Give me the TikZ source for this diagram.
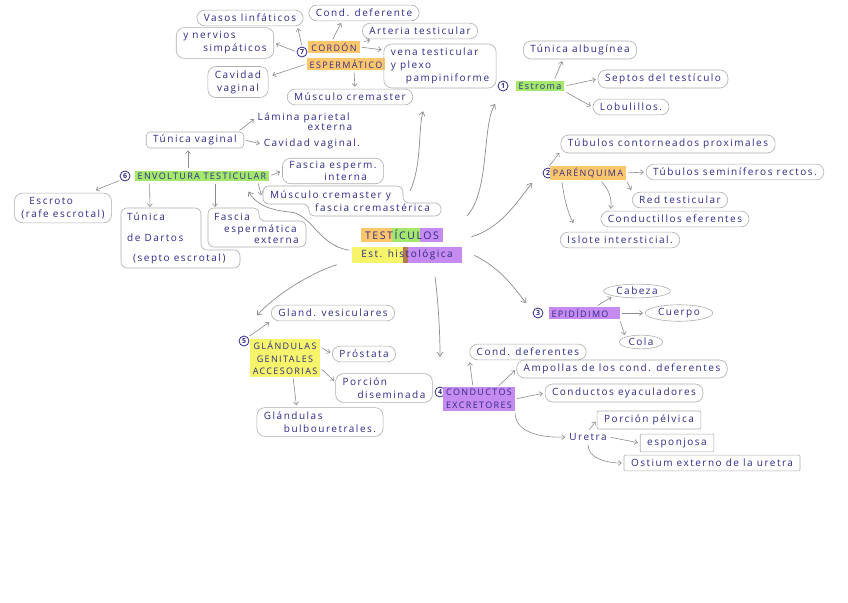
\documentclass[tikz,border=0pt]{standalone}
\usepackage{fontspec}
\setmainfont{Open Sans}[LetterSpace=15]
\usetikzlibrary{arrows.meta,shapes.geometric,calc,backgrounds}
\definecolor{ink}{HTML}{2E2A88}
\definecolor{ln}{HTML}{8C8C8C}
\definecolor{hor}{HTML}{FFC76B}
\definecolor{hgr}{HTML}{A3E86A}
\definecolor{hye}{HTML}{F5F46A}
\definecolor{hpu}{HTML}{C68BF0}
\definecolor{hbr}{HTML}{B07A55}
\begin{document}
\begin{tikzpicture}[x=1pt,y=-1pt,
  every node/.style={text=ink,font=\fontsize{10}{13}\selectfont},
  bx/.style={draw=ln!70,line width=.6pt,rounded corners=8pt,inner xsep=7pt,inner ysep=4pt},
  sq/.style={draw=ln!70,line width=.6pt,rounded corners=1pt,inner xsep=7pt,inner ysep=4pt},
  el/.style={ellipse,draw=ln!70,line width=.6pt,inner xsep=3pt,inner ysep=1pt},
  pl/.style={inner sep=2pt},
  tx/.style={inner sep=0pt,align=left},
  outl/.style={draw=ln!70,line width=.6pt,rounded corners=6pt},
  hd/.style={inner xsep=3pt,inner ysep=2pt,font=\fontsize{9}{12.5}\selectfont},
  num/.style={circle,draw=ink,line width=.8pt,inner sep=0pt,minimum size=10pt,font=\fontsize{7}{7}\selectfont\bfseries},
  arr/.style={-{Straight Barb[length=3pt,width=5pt]},draw=ln,line width=.6pt,shorten <=2pt,shorten >=2pt},
  crv/.style={-{Straight Barb[length=4pt,width=6pt]},draw=ln,line width=.7pt}]
\begin{pgfonlayer}{background}
\fill[white] (0,0) rectangle (848,602);
\end{pgfonlayer}
\useasboundingbox (0,0) rectangle (848,602);

% ---------- centre
\node[inner sep=0pt,minimum width=82pt,minimum height=14pt,font=\fontsize{10.5}{12}\selectfont] (test) at (402,235) {TESTÍCULOS};
\node[inner sep=0pt,minimum width=110pt,minimum height=15pt] (hist) at (407,255) {Est. histológica};
\begin{pgfonlayer}{background}
\fill[hor] (test.south west) rectangle ($(test.north west)!0.38!(test.north east)$);
\fill[hgr] ($(test.south west)!0.38!(test.south east)$) rectangle ($(test.north west)!0.72!(test.north east)$);
\fill[hpu] ($(test.south west)!0.72!(test.south east)$) rectangle (test.north east);
\fill[hye] (hist.south west) rectangle ($(hist.north west)!0.46!(hist.north east)$);
\fill[hbr] ($(hist.south west)!0.46!(hist.south east)$) rectangle ($(hist.north west)!0.51!(hist.north east)$);
\fill[hpu] ($(hist.south west)!0.51!(hist.south east)$) rectangle (hist.north east);
\end{pgfonlayer}

% ---------- 7 cordon espermatico
\node[num] (n7) at (302,52) {7};
\node[hd,fill=hor] (cordA) at (334,47) {CORDÓN};
\node[hd,fill=hor] (cordB) at (346,64) {ESPERMÁTICO};
\node[bx] (vasos) at (250,18) {Vasos linfáticos};
\node[bx,align=left] (nerv) at (225,43) {y nervios\\\hspace*{2em}simpáticos};
\node[bx] (cdef) at (364,13) {Cond. deferente};
\node[bx] (art) at (420,31) {Arteria testicular};
\node[bx,align=left] (vena) at (440,66) {vena testicular\\y plexo\\\hspace*{1.5em}pampiniforme};
\node[bx,align=center] (cav) at (238,82) {Cavidad\\vaginal};
\node[bx] (musc) at (350,97) {Músculo cremaster};
\draw[arr] (n7.north) -- ($(vasos.south east)+(-6,0)$);
\draw[arr] (n7.west) -- (nerv.east);
\draw[arr] ($(cordA.north)+(-2,0)$) -- ($(cdef.south)+(-22,0)$);
\draw[arr] ($(cordA.north east)+(2,2)$) -- ($(art.south west)+(10,0)$);
\draw[arr] (cordA.east) -- ($(vena.west)+(0,-16)$);
\draw[arr] (cordB.west) -- ($(cav.east)+(2,-6)$);
\draw[arr] ($(cordB.south)+(8,0)$) -- ($(musc.north)+(5,0)$);

% ---------- 1 estroma
\node[num] (n1) at (503,86) {1};
\node[hd,fill=hgr] (estr) at (540,86) {Estroma};
\node[bx] (alb) at (580,50) {Túnica albugínea};
\node[bx] (sept) at (663,79) {Septos del testículo};
\node[bx] (lob) at (631,107) {Lobulillos.};
\draw[arr] ($(estr.north)+(14,0)$) -- ($(alb.south west)+(40,0)$);
\draw[arr] (estr.east) -- (sept.west);
\draw[arr] (estr.south east) -- (lob.west);

% ---------- 2 parenquima
\node[num] (n2) at (548,173) {2};
\node[hd,fill=hor] (paren) at (588,173) {PARÉNQUIMA};
\node[bx] (tcp) at (668,144) {Túbulos contorneados proximales};
\node[bx] (tsr) at (735,172) {Túbulos seminíferos rectos.};
\node[bx] (red) at (680,200) {Red testicular};
\node[bx] (condef) at (675,219) {Conductillos eferentes};
\node[bx] (islo) at (620,240) {Islote intersticial.};
\draw[arr] (n2.north) -- ($(tcp.south west)+(0,-2)$);
\draw[arr] (paren.east) -- (tsr.west);
\draw[arr] (paren.south east) -- (red.north west);
\draw[arr] ($(paren.south)+(12,0)$) to[bend left=25] ($(condef.north west)+(10,0)$);
\draw[arr,shorten >=10pt] ($(paren.south west)+(12,0)$) to[bend right=10] ($(islo.north west)+(18,0)$);

% ---------- 3 epididimo
\node[num] (n3) at (538,313) {3};
\node[hd,fill=hpu] (epid) at (584,313) {EPIDÍDIMO\hspace*{8pt}};
\node[el] (cab) at (637,291) {Cabeza};
\node[el] (cue) at (679,313) {Cuerpo};
\node[el] (col) at (641,342) {Cola};
\draw[arr] ($(epid.north)+(12,0)$) -- (cab.south west);
\draw[arr] (epid.east) -- (cue.west);
\draw[arr] (epid.south east) -- (col.north west);

% ---------- 4 conductos excretores
\node[num] (n4) at (440,392) {4};
\node[hd,fill=hpu,align=center] (cond) at (479,399) {CONDUCTOS\\EXCRETORES};
\node[bx] (cdefs) at (528,352) {Cond. deferentes};
\node[bx] (amp) at (622,369) {Ampollas de los cond. deferentes};
\node[bx] (eyac) at (624,393) {Conductos eyaculadores};
\node[pl] (ure) at (588,437) {Uretra};
\node[sq] (pelv) at (649,420) {Porción pélvica};
\node[sq] (espo) at (677,443) {esponjosa};
\node[sq] (osti) at (712,463) {Ostium externo de la uretra};
\draw[arr] ($(cond.north)+(-6,0)$) -- (cdefs.south west);
\draw[arr] ($(cond.north east)+(-18,0)$) -- (amp.west);
\draw[arr] (cond.east) -- (eyac.west);
\draw[arr] (cond.south east) .. controls (515,432) and (540,438) .. (ure.west);
\draw[arr] (ure.north) -- (pelv.west);
\draw[arr] (ure.east) -- (espo.west);
\draw[arr] (ure.south) to[out=-90,in=180] (osti.west);

% ---------- 5 glandulas
\node[num] (n5) at (244,341) {5};
\node[hd,fill=hye,align=center] (gland) at (285,358) {GLÁNDULAS\\GENITALES\\ACCESORIAS};
\node[bx] (vesi) at (333,313) {Gland. vesiculares};
\node[bx] (pros) at (364,354) {Próstata};
\node[bx,align=left] (porc) at (384,388) {Porción\\\hspace*{1.5em}diseminada};
\node[bx,align=left] (bulb) at (320,422) {Glándulas\\\hspace*{2em}bulbouretrales.};
\draw[arr] (n5.north east) -- (vesi.south west);
\draw[arr] ($(gland.north east)+(0,8)$) -- (pros.west);
\draw[arr] ($(gland.east)+(0,10)$) -- ($(porc.west)+(0,-6)$);
\draw[arr] ($(gland.south)+(8,0)$) -- ($(bulb.north west)+(40,0)$);

% ---------- 6 envoltura testicular
\node[num] (n6) at (125,176) {6};
\node[hd,fill=hgr] (envol) at (202,176) {ENVOLTURA TESTICULAR};
\node[sq,rounded corners=4pt,inner ysep=3pt] (tvag) at (195,140) {Túnica vaginal};
\node[pl,align=left] (lam) at (305,122) {Lámina parietal\\[-3pt]\hspace*{5em}externa};
\node[pl] (cavv) at (312,144) {Cavidad vaginal.};
\node[bx,align=left,inner ysep=3pt] (fint) at (333,171) {Fascia esperm.\\[-1pt]\hspace*{3.5em}interna};
\node[tx,anchor=north west] (mcf) at (270,191) {Músculo cremaster y\\\hspace*{4.5em}fascia cremastérica};
\draw[outl] (263,186) -- (403,186) -- (403,203) -- (441,203) -- (441,216) -- (309,216) -- (309,204) -- (263,204) -- cycle;
\node[tx,anchor=north west,font=\fontsize{10}{11.5}\selectfont] (fext) at (214,213) {Fascia\\\hspace*{1em}espermática\\\hspace*{4em}externa};
\draw[outl] (208,208) -- (259,208) -- (259,221) -- (306,221) -- (306,247) -- (208,247) -- cycle;
\node[tx,anchor=north west,font=\fontsize{10}{20.5}\selectfont] (dart) at (127,213) {Túnica\\de Dartos\\\hspace*{0.6em}(septo escrotal)};
\draw[outl] (121,208) -- (201,208) -- (201,250) -- (240,250) -- (240,268) -- (121,268) -- cycle;
\node[bx,align=left] (escr) at (63,208) {\hspace*{0.8em}Escroto\\(rafe escrotal)};
\draw[arr] ($(envol.north)+(-14,0)$) -- ($(tvag.south)+(-7,0)$);
\draw[arr] ($(tvag.north east)+(-6,0)$) -- ($(lam.west)+(0,-4)$);
\draw[arr] (tvag.east) -- (cavv.west);
\draw[arr] (envol.east) -- (fint.west);
\draw[arr] ($(envol.south east)+(-12,0)$) -- ($(mcf.north west)+(-8,6)$);
\draw[arr] ($(envol.south)+(13,0)$) -- ($(fext.north west)+(1,-4)$);
\draw[arr] ($(envol.south west)+(15,0)$) -- ($(dart.north west)+(23,-4)$);
\draw[arr] (n6.south west) -- ($(escr.north east)+(-18,-2)$);

% ---------- main curved connectors from the centre
\coordinate (k1) at (410,191);
\draw[crv] (k1) .. controls (422,165) and (418,130) .. ($(musc.south east)+(10,6)$);
\draw[crv] ($(test.north east)+(24,-12)$) .. controls (490,190) and (482,125) .. ($(n1.south west)+(-4,14)$);
\draw[crv] ($(test.east)+(28,2)$) .. controls (500,228) and (515,205) .. ($(n2.south west)+(-12,6)$);
\draw[crv] ($(hist.north east)+(12,8)$) .. controls (500,268) and (512,285) .. ($(n3.north west)+(-8,-6)$);
\draw[crv] ($(hist.south)+(28,14)$) .. controls (438,300) and (440,330) .. ($(n4.north)+(0,-30)$);
\draw[crv] ($(hist.south west)+(-15,2)$) .. controls (305,275) and (270,300) .. ($(n5.north)+(13,-20)$);
\draw[crv] ($(test.south west)+(-12,8)$) .. controls (318,245) and (312,214) .. (290,212) .. controls (268,210) and (256,204) .. ($(envol.south east)+(-21,10)$);
\end{tikzpicture}
\end{document}
